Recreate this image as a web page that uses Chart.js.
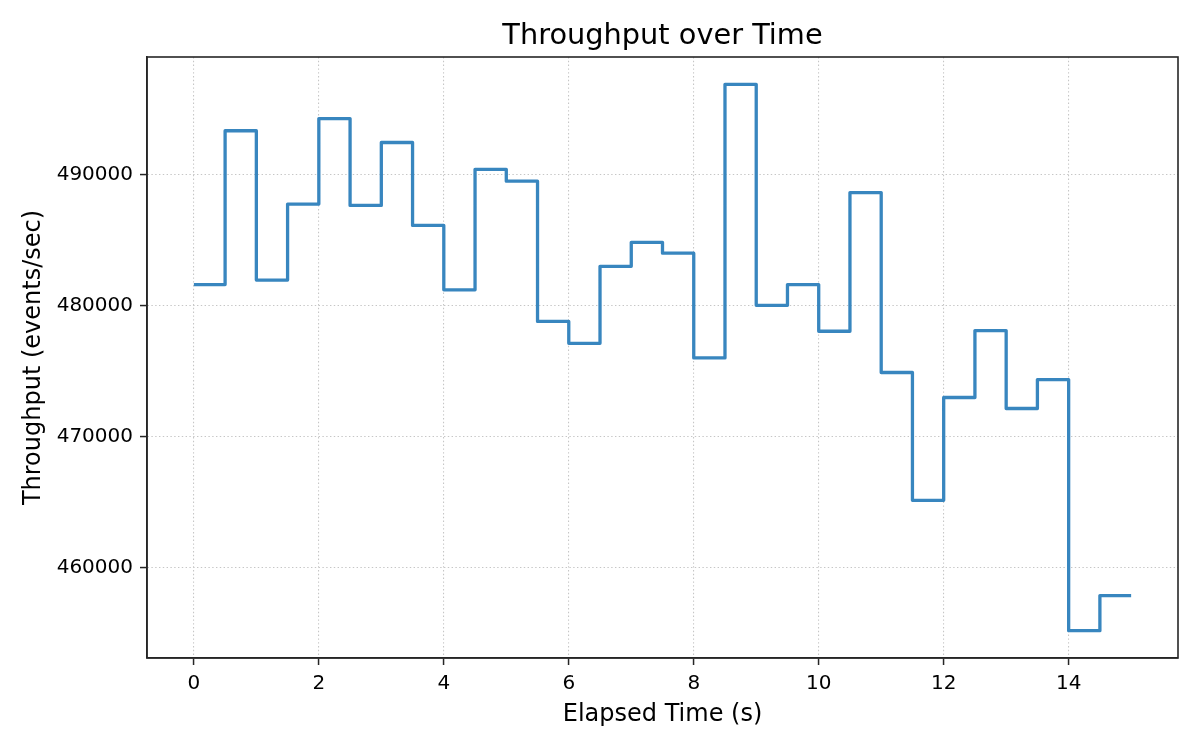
<!DOCTYPE html>
<html>
<head>
<meta charset="utf-8">
<title>Throughput over Time</title>
<script src="https://cdn.jsdelivr.net/npm/chart.js@4.4.1/dist/chart.umd.min.js"></script>
<style>
  html, body { margin: 0; padding: 0; background: #fff; }
  canvas { display: block; }
</style>
</head>
<body>
<canvas id="canvas1" width="1200" height="750"></canvas>
<script>
// elapsed time (s) and throughput (events/sec), steps drawn "post"
const times = [0, 0.5, 1, 1.5, 2, 2.5, 3, 3.5, 4, 4.5, 5, 5.5, 6, 6.5, 7, 7.5,
  8, 8.5, 9, 9.5, 10, 10.5, 11, 11.5, 12, 12.5, 13, 13.5, 14, 14.5, 15]
const throughput = [481600, 493350, 481950, 487750, 494280, 487650, 492450, 486120,
  481200, 490400, 489500, 478790, 477120, 483000, 484830, 484000,
  476000, 496890, 480020, 481600, 478040, 488630, 474890, 465130,
  472980, 478090, 472140, 474350, 455180, 457860, 457860]
const xTicks = [0, 2, 4, 6, 8, 10, 12, 14]
const yTicks = [460000, 470000, 480000, 490000]
const chartTitle = 'Throughput over Time'

const ctx = document.getElementById('canvas1').getContext('2d')
const font = 'DejaVu Sans'

// axes box on all four sides + title centred over the plot area
const frame = {
  id: 'frame',
  afterDraw(chart) {
    const a = chart.chartArea
    const c = chart.ctx
    c.save()
    c.strokeStyle = '#262626'
    c.lineWidth = 1.6
    c.setLineDash([])
    c.strokeRect(a.left, a.top, a.right - a.left, a.bottom - a.top)
    c.fillStyle = '#000'
    c.font = '28.8px "DejaVu Sans"'
    c.textAlign = 'center'
    c.textBaseline = 'alphabetic'
    c.fillText(chartTitle, (a.left + a.right) / 2, 43.5)
    c.restore()
  }
}

const gridOpts = {
  color: '#c6c6c6',
  lineWidth: 1.1,
  tickColor: '#262626',
  tickWidth: 1.5,
  tickBorderDash: [],
  tickLength: 7
}
const borderOpts = { display: true, color: '#262626', width: 1.6, dash: [1.4, 2.4] }

const myChart = new Chart(ctx, {
  type: 'line',
  data: {
    datasets: [{
      data: times.map((t, i) => ({x: t, y: throughput[i]})),
      borderColor: '#3886bf',
      borderWidth: 3.3,
      borderJoinStyle: 'round',
      stepped: 'before',
      pointRadius: 0,
      fill: false
    }]
  },
  options: {
    responsive: false,
    animation: false,
    layout: { padding: { left: 0, right: 22, top: 57, bottom: 0 } },
    plugins: {
      legend: { display: false },
      tooltip: { enabled: false },
      title: { display: false }
    },
    scales: {
      x: {
        type: 'linear',
        min: -0.75,
        max: 15.75,
        afterBuildTicks: s => { s.ticks = xTicks.map(v => ({value: v})) },
        afterFit: s => { s.height = 92 },
        grid: gridOpts,
        border: borderOpts,
        ticks: {
          color: '#000',
          padding: 7,
          maxRotation: 0,
          font: { family: font, size: 20 },
          callback: v => String(v)
        },
        title: {
          display: true,
          text: 'Elapsed Time (s)',
          color: '#000',
          font: { family: font, size: 24 },
          padding: { top: 0, bottom: 21 }
        }
      },
      y: {
        type: 'linear',
        min: 453090,
        max: 498980,
        afterBuildTicks: s => { s.ticks = yTicks.map(v => ({value: v})) },
        afterFit: s => { s.width = 147 },
        grid: gridOpts,
        border: borderOpts,
        ticks: {
          color: '#000',
          padding: 7,
          font: { family: font, size: 20 },
          callback: v => String(v)
        },
        title: {
          display: true,
          text: 'Throughput (events/sec)',
          color: '#000',
          font: { family: font, size: 24 },
          padding: { top: 19, bottom: 0 }
        }
      }
    }
  },
  plugins: [frame]
})
</script>
</body>
</html>
